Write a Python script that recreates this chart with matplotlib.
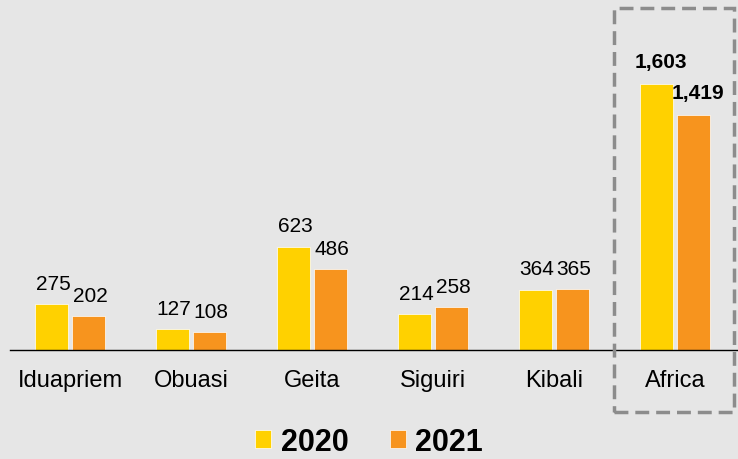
import numpy as np
import matplotlib.pyplot as plt
from matplotlib.patches import Rectangle

plt.rcParams['font.family'] = ['Liberation Sans', 'DejaVu Sans']

mines = ["Iduapriem", "Obuasi", "Geita", "Siguiri", "Kibali", "Africa"]
vals_2020 = [275, 127, 623, 214, 364, 1603]
vals_2021 = [202, 108, 486, 258, 365, 1419]
years = ["2020", "2021"]

yellow = "#FFD100"
orange = "#F7941E"
bg = "#E6E6E6"

W, H = 738, 460
fig = plt.figure(figsize=(W / 100, H / 100), dpi=100, facecolor=bg)
ax = fig.add_axes([10 / W, 109 / H, 728 / W, 346 / H], facecolor=bg)

x = np.arange(len(mines))
bw = 33 / 121
gap = 4 / 121
off = (bw + gap) / 2

b1 = ax.bar(x - off, vals_2020, bw, color=yellow, edgecolor="white", linewidth=0.5, label=years[0])
b2 = ax.bar(x + off, vals_2021, bw, color=orange, edgecolor="white", linewidth=0.5, label=years[1])

ax.set_xlim(-0.496, 5.52)
ax.set_ylim(0, 2085)

for bars, vals in ((b1, vals_2020), (b2, vals_2021)):
    for i, (b, v) in enumerate(zip(bars, vals)):
        bold = mines[i] == "Africa"
        ax.annotate(f"{v:,}", (b.get_x() + b.get_width() / 2, v),
                    xytext=(3 if bold else 1, 12 if bold else 11), textcoords="offset points",
                    ha="center", va="baseline", fontsize=15,
                    fontweight="bold" if bold else "normal", color="black")

for s in ["top", "right", "left"]:
    ax.spines[s].set_visible(False)
ax.spines["bottom"].set_color("black")
ax.spines["bottom"].set_linewidth(1.0)
ax.set_yticks([])
ax.set_xticks(x)
ax.set_xticklabels(mines, fontsize=17)
ax.tick_params(axis="x", length=0, pad=14)

# dashed box around Africa
fig.patches.append(Rectangle((614 / W, (H - 413) / H), 120 / W, 404 / H,
                             transform=fig.transFigure, fill=False,
                             edgecolor="#8C8C8C", linewidth=2.5,
                             linestyle=(0, (4, 2))))

leg = fig.legend(handles=[b1, b2], labels=years, loc="lower center",
                 bbox_to_anchor=(0.5, -0.056), ncol=2, frameon=False,
                 prop={"size": 22, "weight": "bold"}, handlelength=0.53,
                 handleheight=0.53, handletextpad=0.3, columnspacing=1.35)

fig.savefig("out.png", dpi=100, facecolor=bg)
